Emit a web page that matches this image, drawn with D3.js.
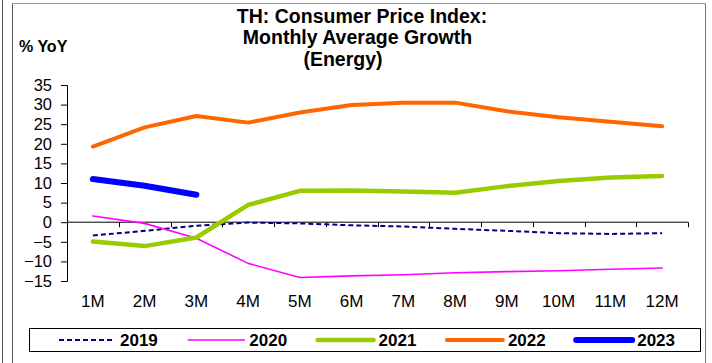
<!DOCTYPE html>
<html>
<head>
<meta charset="utf-8">
<script src="https://cdn.jsdelivr.net/npm/d3@7/dist/d3.min.js"></script>
<style>
  html, body { margin: 0; padding: 0; background: #fff; }
  svg { display: block; }
  text { font-family: "Liberation Sans", Arial, sans-serif; fill: #000; }
</style>
</head>
<body>
<svg id="chart" width="712" height="363"></svg>
<script>
// Months on the category axis
const months = ["1M", "2M", "3M", "4M", "5M", "6M", "7M", "8M", "9M", "10M", "11M", "12M"];

// Energy CPI, % YoY, monthly average growth per year
const y2019 = [-3.4, -2.2, -0.9, -0.1, -0.3, -0.8, -1.1, -1.7, -2.2, -2.8, -3.0, -2.8];
const y2020 = [1.6, -0.3, -4.1, -10.5, -14.1, -13.7, -13.4, -12.9, -12.6, -12.4, -12.0, -11.7];
const y2021 = [-4.9, -6.1, -3.9, 4.4, 8.0, 8.1, 7.8, 7.5, 9.2, 10.5, 11.4, 11.8];
const y2022 = [19.3, 24.2, 27.1, 25.4, 28.0, 29.9, 30.5, 30.5, 28.3, 26.8, 25.6, 24.5];
const y2023 = [11.0, 9.3, 7.0];

const yTicks = [35, 30, 25, 20, 15, 10, 5, 0, -5, -10, -15];
const titleLines = ["TH: Consumer Price Index:", "Monthly Average Growth", "(Energy)"];
const unitLabel = "% YoY";

const series = [
  { name: "2019", values: y2019, color: "#000080", width: 2, dash: "5,3" },
  { name: "2020", values: y2020, color: "#FF00FF", width: 1.6, dash: null },
  { name: "2021", values: y2021, color: "#99CC00", width: 4.5, dash: null },
  { name: "2022", values: y2022, color: "#FF6600", width: 4, dash: null },
  { name: "2023", values: y2023, color: "#0000FF", width: 6, dash: null }
];

const svg = d3.select("#chart");

// Outer frame
svg.append("line").attr("x1", 2.5).attr("x2", 2.5).attr("y1", 0).attr("y2", 363)
  .attr("stroke", "#555").attr("stroke-width", 1);
svg.append("line").attr("x1", 12.5).attr("x2", 12.5).attr("y1", 3.5).attr("y2", 363)
  .attr("stroke", "#555").attr("stroke-width", 1);
svg.append("line").attr("x1", 12.5).attr("x2", 705.5).attr("y1", 3.5).attr("y2", 3.5)
  .attr("stroke", "#999").attr("stroke-width", 1);
svg.append("line").attr("x1", 705.5).attr("x2", 705.5).attr("y1", 3.5).attr("y2", 363)
  .attr("stroke", "#777").attr("stroke-width", 1);

// Scales
const x = d3.scaleBand().domain(months).range([67, 688]);
const y = d3.scaleLinear().domain([-15, 35]).range([281, 85]);
const cx = m => x(m) + x.bandwidth() / 2;

// Title
const titleX = [362, 357.5, 343];
svg.append("g").selectAll("text").data(titleLines).join("text")
  .attr("x", (d, i) => titleX[i])
  .attr("y", (d, i) => 22.5 + i * 21.5)
  .attr("text-anchor", "middle")
  .attr("font-size", 19.5).attr("font-weight", "bold")
  .text(d => d);

svg.append("text").attr("x", 19).attr("y", 52)
  .attr("font-size", 16).attr("font-weight", "bold")
  .text(unitLabel);

// Y axis
const yAxis = svg.append("g").attr("transform", "translate(67,0)")
  .call(d3.axisLeft(y).tickValues(yTicks).tickSize(6).tickPadding(9).tickFormat(d3.format("d")));
yAxis.select(".domain").attr("stroke", "#000");
yAxis.selectAll(".tick line").attr("stroke", "#000");
yAxis.selectAll("text").attr("font-size", 16.5)
  .attr("font-family", "'Liberation Sans', Arial, sans-serif");

// X axis line at zero with band-boundary ticks
const zeroY = y(0);
svg.append("line").attr("x1", 67).attr("x2", 688).attr("y1", zeroY).attr("y2", zeroY)
  .attr("stroke", "#000").attr("stroke-width", 1);
const bounds = months.slice(1).map(m => x(m)).concat([x.range()[1]]);
svg.append("g").selectAll("line").data(bounds).join("line")
  .attr("x1", d => Math.round(d) + 0.5).attr("x2", d => Math.round(d) + 0.5)
  .attr("y1", zeroY).attr("y2", zeroY + 5)
  .attr("stroke", "#000");

// Category labels along the bottom
const xAxis = svg.append("g").attr("transform", "translate(0,281)")
  .call(d3.axisBottom(x).tickSize(0).tickPadding(13.5));
xAxis.select(".domain").remove();
xAxis.selectAll("text").attr("font-size", 17)
  .attr("font-family", "'Liberation Sans', Arial, sans-serif");

// Series lines
const line = d3.line().x((d, i) => cx(months[i])).y(d => y(d));
svg.append("g").selectAll("path").data(series).join("path")
  .attr("d", s => line(s.values))
  .attr("fill", "none")
  .attr("stroke", s => s.color)
  .attr("stroke-width", s => s.width)
  .attr("stroke-dasharray", s => s.dash)
  .attr("stroke-linejoin", "round")
  .attr("stroke-linecap", s => s.dash ? "butt" : "round");

// Legend
svg.append("rect").attr("x", 29.5).attr("y", 328.5).attr("width", 671).attr("height", 23)
  .attr("fill", "#fff").attr("stroke", "#000").attr("stroke-width", 1);
const lg = svg.append("g").selectAll("g").data(series).join("g")
  .attr("transform", (d, i) => `translate(${59 + i * 129.3},340)`);
lg.append("line").attr("x1", 0).attr("x2", 56).attr("y1", 0).attr("y2", 0)
  .attr("stroke", s => s.color)
  .attr("stroke-width", s => s.width)
  .attr("stroke-dasharray", s => s.dash)
  .attr("stroke-linecap", s => s.dash ? "butt" : "round");
lg.append("text").attr("x", 61).attr("y", 6)
  .attr("font-size", 17).attr("font-weight", "bold")
  .text(s => s.name);
</script>
</body>
</html>
